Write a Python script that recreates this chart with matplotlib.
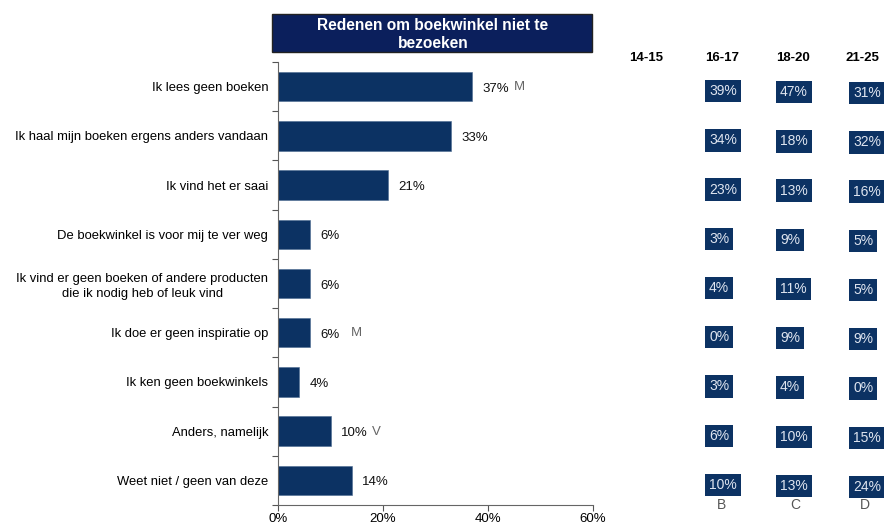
import matplotlib.pyplot as plt
from matplotlib.patches import Rectangle

plt.rcParams['font.family'] = ['Liberation Sans', 'DejaVu Sans']

# data
categories = ['Ik lees geen boeken',
              'Ik haal mijn boeken ergens anders vandaan',
              'Ik vind het er saai',
              'De boekwinkel is voor mij te ver weg',
              'Ik vind er geen boeken of andere producten\ndie ik nodig heb of leuk vind',
              'Ik doe er geen inspiratie op',
              'Ik ken geen boekwinkels',
              'Anders, namelijk',
              'Weet niet / geen van deze']
totals = [37, 33, 21, 6, 6, 6, 4, 10, 14]
flags = ['M', '', '', '', '', 'M', '', 'V', '']
age_groups = ['14-15', '16-17', '18-20', '21-25']
col_letters = ['', 'B', 'C', 'D']
age_16_17 = [39, 34, 23, 3, 4, 0, 3, 6, 10]
age_18_20 = [47, 18, 13, 9, 11, 9, 4, 10, 13]
age_21_25 = [31, 32, 16, 5, 5, 9, 0, 15, 24]
header = 'Redenen om boekwinkel niet te\nbezoeken'

navy = '#0c3263'
dark = '#0b1f5c'

fig = plt.figure(figsize=(8.84, 5.28), dpi=100)
W, H = 884, 528
ax = fig.add_axes([278 / W, 1 - 505 / H, (593 - 278) / W, (505 - 62) / H])

ypos = list(range(len(categories)))
ax.barh(ypos, totals, height=0.6, color=navy, edgecolor='#4a6a90', linewidth=0.4)
ax.set_xlim(0, 60)
ax.set_ylim(len(categories) - 0.5, -0.5)

for y, v, f in zip(ypos, totals, flags):
    ax.annotate('%d%%' % v, (v, y), xytext=(7.5, -1.5), textcoords='offset points',
                va='center', ha='left', fontsize=9.5, color='#111111')
    if f:
        ax.annotate(f, (v, y), xytext=(30, -0.5), textcoords='offset points',
                    va='center', ha='left', fontsize=9.5, color='#666666')

ax.set_xticks([0, 20, 40, 60])
ax.set_xticklabels(['0%', '20%', '40%', '60%'], fontsize=9.5)
ax.set_yticks([y - 0.5 for y in ypos] + [len(categories) - 0.5])
ax.set_yticklabels([])
ax.set_yticks(ypos, minor=True)
ax.set_yticklabels(categories, minor=True, fontsize=9.4, ha='right',
                   multialignment='center', linespacing=1.3)
ax.tick_params(axis='y', which='minor', length=0, pad=7)
ax.tick_params(axis='y', which='major', length=4, color='#555555')
ax.tick_params(axis='x', length=4, color='#555555', pad=2)
for s in ['top', 'right']:
    ax.spines[s].set_visible(False)
for s in ['left', 'bottom']:
    ax.spines[s].set_color('#666666')
    ax.spines[s].set_linewidth(0.8)

# header box
fig.patches.append(Rectangle((272 / W, 1 - 52 / H), (592 - 272) / W, 38 / H,
                             transform=fig.transFigure, facecolor=dark,
                             edgecolor='#222222', linewidth=1))
fig.text(433 / W, 1 - 34 / H, header, ha='center', va='center', color='white',
         fontsize=11.2, fontweight='bold', linespacing=1.25)

# cut-off title
fig.text(160 / W, 1 + 12 / H, 'g', fontsize=16, ha='left', va='center')

# table on the right
head_x = [646, 722, 793, 862]
for x, g in zip(head_x, age_groups):
    fig.text(x / W, 1 - 58 / H, g, ha='center', va='center', fontsize=9.5, fontweight='bold')

box_x = [709, 780, 853]
shifts = [4.5, 5.5, 6.5]
for x, vals, sh in zip(box_x, [age_16_17, age_18_20, age_21_25], shifts):
    for y, v in zip(ypos, vals):
        ax.annotate('%d%%' % v, xy=(x, y), xycoords=('figure pixels', 'data'),
                    xytext=(0, -sh * 0.72), textcoords='offset points',
                    ha='left', va='center', fontsize=10, color='#dfe5f0',
                    annotation_clip=False,
                    bbox=dict(boxstyle='square,pad=0.3', facecolor=navy, edgecolor='none'))

for x, c in zip([722, 795, 865], col_letters[1:]):
    fig.text(x / W, 1 - 505 / H, c, ha='center', va='center', fontsize=10, color='#555555')

fig.savefig('out.png', dpi=100)
